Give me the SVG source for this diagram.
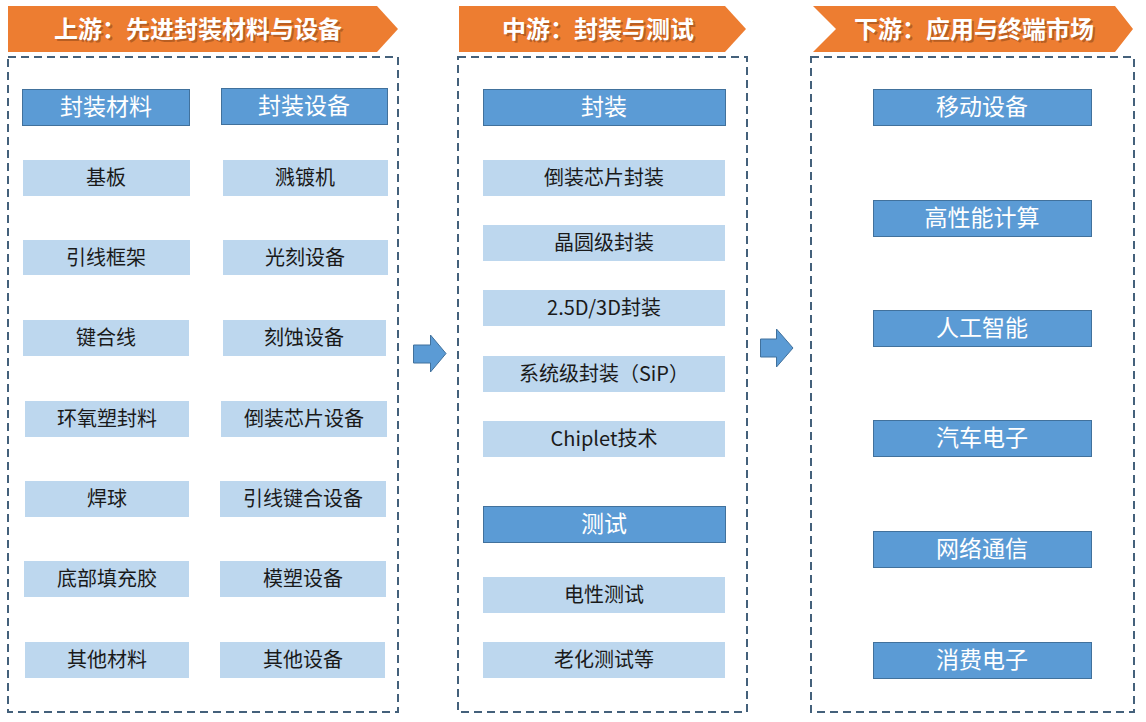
<svg xmlns="http://www.w3.org/2000/svg" width="1146" height="722" viewBox="0 0 1146 722">
<style>
text{transform:translateY(-2px)}
.hdr{fill:#ed7d31}
.htxt{font-family:"Noto Sans CJK SC","Noto Sans CJK JP",sans-serif;font-size:24px;font-weight:bold;fill:#fff;text-anchor:middle;dominant-baseline:central}
.hsh{font-family:"Noto Sans CJK SC","Noto Sans CJK JP",sans-serif;font-size:24px;font-weight:bold;fill:#7a3a10;opacity:0.45;text-anchor:middle;dominant-baseline:central}
.frame{fill:none;stroke:#44617b;stroke-width:2;stroke-dasharray:8 5}
.dk{fill:#5b9bd5;stroke:#41719c;stroke-width:1}
.lt{fill:#bdd7ee}
.dt{font-family:"Noto Sans CJK SC","Noto Sans CJK JP",sans-serif;font-size:23px;fill:#fff;text-anchor:middle;dominant-baseline:central}
.lt-t{font-family:"Noto Sans CJK SC","Noto Sans CJK JP",sans-serif;font-size:20px;fill:#1a1a1a;text-anchor:middle;dominant-baseline:central}
.arr{fill:#5b9bd5;stroke:#41719c;stroke-width:1}
</style>
<rect width="1146" height="722" fill="#fff"/>

<g id="header-upstream">
<polygon class="hdr" points="8,6 377,6 398,29 377,52 8,52"/>
<text class="hsh" x="200" y="31">上游：先进封装材料与设备</text>
<text class="htxt" x="198" y="29">上游：先进封装材料与设备</text>
</g>
<g id="header-midstream">
<polygon class="hdr" points="459,6 725,6 746,29 725,52 459,52"/>
<text class="hsh" x="600" y="31">中游：封装与测试</text>
<text class="htxt" x="598" y="29">中游：封装与测试</text>
</g>
<g id="header-downstream">
<polygon class="hdr" points="813,6 1115,6 1133,29 1115,52 813,52 836,29"/>
<text class="hsh" x="976" y="31">下游：应用与终端市场</text>
<text class="htxt" x="974" y="29">下游：应用与终端市场</text>
</g>

<g id="frame-upstream"><rect class="frame" x="8" y="57" width="390" height="655"/></g>
<g id="frame-midstream"><rect class="frame" x="458" y="57" width="289" height="655"/></g>
<g id="frame-downstream"><rect class="frame" x="811" y="57" width="323" height="655"/></g>

<g id="up-materials-head"><rect class="dk" x="22.5" y="89.5" width="167" height="36"/><text class="dt" x="106" y="107">封装材料</text></g>
<g id="up-equipment-head"><rect class="dk" x="221.5" y="88.5" width="166" height="36"/><text class="dt" x="304" y="106">封装设备</text></g>

<g id="up-m1"><rect class="lt" x="23" y="160" width="167" height="36"/><text class="lt-t" x="106" y="178">基板</text></g>
<g id="up-m2"><rect class="lt" x="23" y="240" width="167" height="35"/><text class="lt-t" x="106" y="258">引线框架</text></g>
<g id="up-m3"><rect class="lt" x="23" y="320" width="166" height="36"/><text class="lt-t" x="106" y="338">键合线</text></g>
<g id="up-m4"><rect class="lt" x="25" y="401" width="164" height="36"/><text class="lt-t" x="107" y="419">环氧塑封料</text></g>
<g id="up-m5"><rect class="lt" x="25" y="481" width="164" height="36"/><text class="lt-t" x="107" y="499">焊球</text></g>
<g id="up-m6"><rect class="lt" x="24" y="561" width="165" height="36"/><text class="lt-t" x="107" y="579">底部填充胶</text></g>
<g id="up-m7"><rect class="lt" x="25" y="642" width="164" height="36"/><text class="lt-t" x="107" y="660">其他材料</text></g>

<g id="up-e1"><rect class="lt" x="223" y="160" width="165" height="36"/><text class="lt-t" x="305" y="178">溅镀机</text></g>
<g id="up-e2"><rect class="lt" x="223" y="240" width="165" height="35"/><text class="lt-t" x="305" y="258">光刻设备</text></g>
<g id="up-e3"><rect class="lt" x="223" y="320" width="163" height="36"/><text class="lt-t" x="304" y="338">刻蚀设备</text></g>
<g id="up-e4"><rect class="lt" x="221" y="401" width="166" height="36"/><text class="lt-t" x="304" y="419">倒装芯片设备</text></g>
<g id="up-e5"><rect class="lt" x="220" y="481" width="166" height="36"/><text class="lt-t" x="303" y="499">引线键合设备</text></g>
<g id="up-e6"><rect class="lt" x="220" y="561" width="166" height="36"/><text class="lt-t" x="303" y="579">模塑设备</text></g>
<g id="up-e7"><rect class="lt" x="220" y="642" width="165" height="36"/><text class="lt-t" x="303" y="660">其他设备</text></g>

<g id="mid-pack-head"><rect class="dk" x="483.5" y="89.5" width="242" height="36"/><text class="dt" x="604" y="107">封装</text></g>
<g id="mid-p1"><rect class="lt" x="483" y="160" width="242" height="36"/><text class="lt-t" x="604" y="178">倒装芯片封装</text></g>
<g id="mid-p2"><rect class="lt" x="483" y="225" width="242" height="36"/><text class="lt-t" x="604" y="243">晶圆级封装</text></g>
<g id="mid-p3"><rect class="lt" x="483" y="290" width="242" height="36"/><text class="lt-t" x="604" y="308">2.5D/3D封装</text></g>
<g id="mid-p4"><rect class="lt" x="483" y="356" width="242" height="36"/><text class="lt-t" x="604" y="374">系统级封装（SiP）</text></g>
<g id="mid-p5"><rect class="lt" x="483" y="421" width="242" height="36"/><text class="lt-t" x="604" y="439">Chiplet技术</text></g>
<g id="mid-test-head"><rect class="dk" x="483.5" y="506.5" width="242" height="36"/><text class="dt" x="604" y="524">测试</text></g>
<g id="mid-t1"><rect class="lt" x="483" y="577" width="242" height="36"/><text class="lt-t" x="604" y="595">电性测试</text></g>
<g id="mid-t2"><rect class="lt" x="483" y="642" width="242" height="36"/><text class="lt-t" x="604" y="660">老化测试等</text></g>

<g id="down-1"><rect class="dk" x="873.5" y="89.5" width="218" height="36"/><text class="dt" x="982" y="107">移动设备</text></g>
<g id="down-2"><rect class="dk" x="873.5" y="200.5" width="218" height="36"/><text class="dt" x="982" y="218">高性能计算</text></g>
<g id="down-3"><rect class="dk" x="873.5" y="310.5" width="218" height="36"/><text class="dt" x="982" y="328">人工智能</text></g>
<g id="down-4"><rect class="dk" x="873.5" y="420.5" width="218" height="36"/><text class="dt" x="982" y="438">汽车电子</text></g>
<g id="down-5"><rect class="dk" x="873.5" y="531.5" width="218" height="36"/><text class="dt" x="982" y="549">网络通信</text></g>
<g id="down-6"><rect class="dk" x="873.5" y="642.5" width="218" height="36"/><text class="dt" x="982" y="660">消费电子</text></g>

<g id="connectors">
<polygon class="arr" points="413.5,345 430.5,345 430.5,335 446,353.5 430.5,372 430.5,363 413.5,363"/>
<polygon class="arr" points="760.5,339 776.5,339 776.5,329 793,348 776.5,367 776.5,357 760.5,357"/>
</g>
</svg>
